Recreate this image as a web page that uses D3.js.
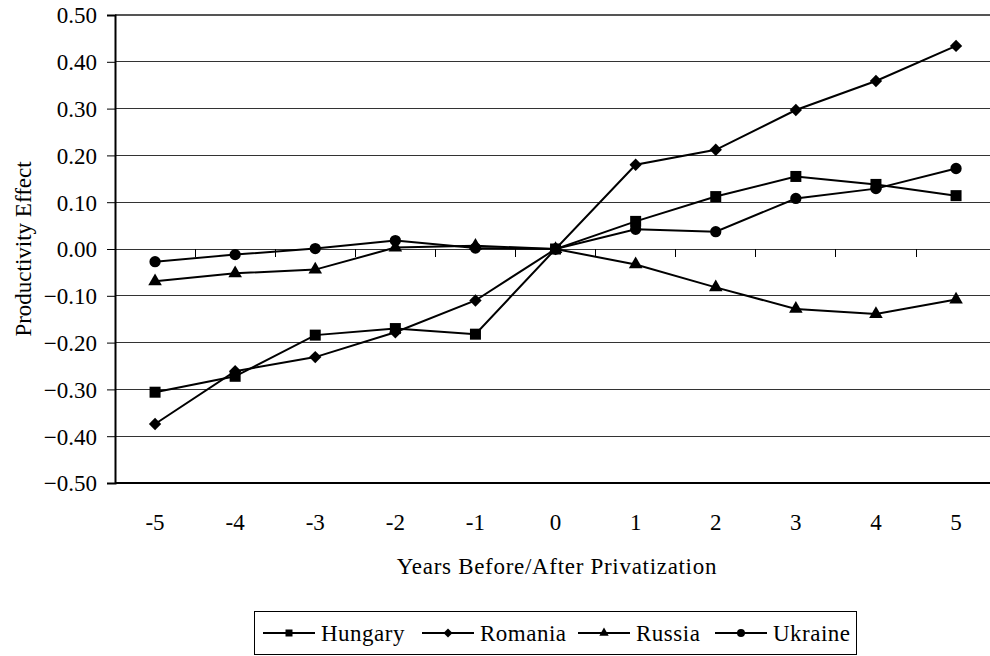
<!DOCTYPE html>
<meta charset="utf-8">
<style>
body { margin: 0; background: #fff; }
text { font-family: "Liberation Serif", "Times New Roman", serif; fill: #000; }
</style>
<svg id="chart" width="990" height="656"></svg>
<script src="https://cdn.jsdelivr.net/npm/d3@7"></script>
<script>

var years = [-5,-4,-3,-2,-1,0,1,2,3,4,5];
var yTicks = [0.5,0.4,0.3,0.2,0.1,0,-0.1,-0.2,-0.3,-0.4,-0.5];

var hungary = [-0.306,-0.272,-0.184,-0.170,-0.182,0,0.059,0.112,0.155,0.138,0.114];
var romania = [-0.374,-0.261,-0.231,-0.178,-0.110,0,0.180,0.212,0.297,0.359,0.434];
var russia  = [-0.069,-0.052,-0.044,0.003,0.007,0,-0.033,-0.082,-0.128,-0.139,-0.108];
var ukraine = [-0.027,-0.012,0.001,0.018,0.002,0,0.042,0.037,0.108,0.129,0.172];

var seriesNames = ["Hungary","Romania","Russia","Ukraine"];
var seriesData = [hungary, romania, russia, ukraine];
// romania diamond = square turned 45 degrees
var seriesSymbols = [d3.symbolSquare, d3.symbolSquare, d3.symbolTriangle, d3.symbolCircle];
var seriesRotate = [0, 45, 0, 0];
var symbolSizes = [121, 76, 80, 100];
var legendSizes = [49, 40, 38, 50];

var svg = d3.select("#chart");
var plotLeft = 115, plotTop = 15, bandW = 80.1, plotBottom = 483;

var x = d3.scaleBand()
	.domain(years)
	.range([plotLeft, plotLeft + bandW * years.length]);

var y = d3.scaleLinear()
	.domain([-0.5, 0.5])
	.range([plotBottom, plotTop]);

// gridlines
svg.append("g")
	.selectAll("line")
	.data(yTicks)
	.enter().append("line")
	.attr("x1", plotLeft)
	.attr("x2", 990)
	.attr("y1", function(d){ return y(d); })
	.attr("y2", function(d){ return y(d); })
	.attr("stroke", function(d){ return d === -0.5 ? "#000" : d === 0.5 ? "#555" : "#333"; })
	.attr("stroke-width", function(d){ return (d === -0.5 || d === 0.5) ? 2 : 1; })
	.attr("shape-rendering", "crispEdges");

// y axis
var yAxis = d3.axisLeft(y)
	.tickValues(yTicks)
	.tickSize(8)
	.tickPadding(10)
	.tickFormat(d3.format(".2f"));

var gy = svg.append("g")
	.attr("transform", "translate(" + plotLeft + ",0)")
	.attr("font-family", null)
	.call(yAxis);
gy.attr("font-family", "Liberation Serif").attr("font-size", 23);
gy.select(".domain").attr("stroke-width", 2);
gy.selectAll("text")
	.style("font-family", "'Liberation Serif', serif")
	.style("font-size", "23px")
	.attr("dy", "0.34em");
gy.selectAll(".tick line").attr("stroke", "#000");

// x axis along zero line, tick marks at band edges
var edges = years.map(function(d){ return x(d); }).slice(1);
svg.append("g")
	.selectAll("line")
	.data(edges)
	.enter().append("line")
	.attr("x1", function(d){ return d; })
	.attr("x2", function(d){ return d; })
	.attr("y1", y(0))
	.attr("y2", y(0) + 8)
	.attr("stroke", "#000")
	.attr("shape-rendering", "crispEdges");

svg.append("g")
	.selectAll("text")
	.data(years)
	.enter().append("text")
	.attr("x", function(d){ return x(d) + x.bandwidth() / 2; })
	.attr("y", 530)
	.attr("text-anchor", "middle")
	.style("font-size", "23px")
	.text(function(d){ return d; });

// axis titles
svg.append("text")
	.attr("x", 557)
	.attr("y", 574)
	.attr("text-anchor", "middle")
	.style("font-size", "23px")
	.style("letter-spacing", "0.7px")
	.text("Years Before/After Privatization");

svg.append("text")
	.attr("transform", "translate(31,249) rotate(-90)")
	.attr("text-anchor", "middle")
	.style("font-size", "23px")
	.text("Productivity Effect");

// series
var line = d3.line()
	.x(function(d, i){ return x(years[i]) + x.bandwidth() / 2; })
	.y(function(d){ return y(d); });

var plot = svg.append("g");
seriesData.forEach(function(vals, s){
	plot.append("path")
		.datum(vals)
		.attr("fill", "none")
		.attr("stroke", "#000")
		.attr("stroke-width", 2)
		.attr("d", line);
	plot.selectAll(".pt" + s)
		.data(vals)
		.enter().append("path")
		.attr("transform", function(d, i){
			return "translate(" + (x(years[i]) + x.bandwidth() / 2) + "," + y(d) + ") rotate(" + seriesRotate[s] + ")";
		})
		.attr("d", d3.symbol().type(seriesSymbols[s]).size(symbolSizes[s]))
		.attr("fill", "#000");
});

// legend
var legend = svg.append("g");
legend.append("rect")
	.attr("x", 254.5)
	.attr("y", 611.5)
	.attr("width", 602)
	.attr("height", 43)
	.attr("fill", "#fff")
	.attr("stroke", "#000");

var legendX = [263, 422, 578, 715];
seriesNames.forEach(function(name, s){
	var g = legend.append("g").attr("transform", "translate(" + legendX[s] + ",633)");
	g.append("line")
		.attr("x1", 0).attr("x2", 52)
		.attr("y1", 0).attr("y2", 0)
		.attr("stroke", "#000")
		.attr("stroke-width", 2);
	g.append("path")
		.attr("transform", "translate(26,0) rotate(" + seriesRotate[s] + ")")
		.attr("d", d3.symbol().type(seriesSymbols[s]).size(legendSizes[s]))
		.attr("fill", "#000");
	g.append("text")
		.attr("x", 58)
		.attr("y", 8)
		.style("font-size", "23px")
		.style("letter-spacing", "0.5px")
		.text(name);
});

</script>
